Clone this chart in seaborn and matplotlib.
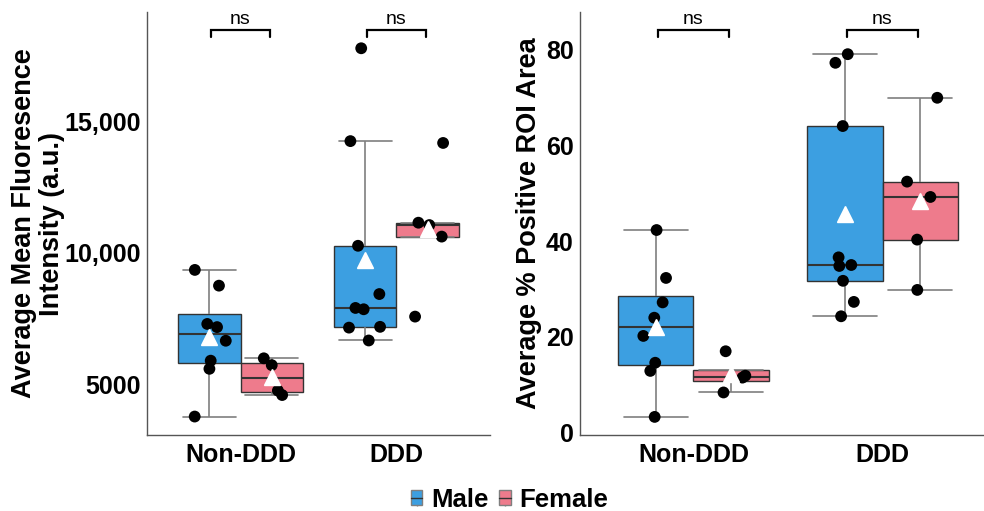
import numpy as np
import pandas as pd
import matplotlib
matplotlib.use("Agg")
import matplotlib.pyplot as plt
import matplotlib.transforms as mtransforms
from matplotlib.patches import Patch
from matplotlib.lines import Line2D
from matplotlib.legend_handler import HandlerTuple
import seaborn as sns

# data
groups = ["Non-DDD", "DDD"]
sexes = ["Male", "Female"]

nonddd_male_mfi = [9350, 8750, 7290, 7170, 6650, 5890, 5580, 3760]
nonddd_female_mfi = [5980, 5720, 4750, 4580]
ddd_male_mfi = [17800, 14260, 10270, 8430, 7900, 7850, 7180, 7150, 6660]
ddd_female_mfi = [14190, 11150, 11060, 10620, 7570]

nonddd_male_roi = [42.3, 32.3, 27.2, 24.0, 20.2, 14.6, 12.9, 3.3]
nonddd_female_roi = [17.0, 11.9, 11.5, 8.4]
ddd_male_roi = [79.0, 77.2, 64.0, 36.6, 35.0, 34.8, 31.7, 27.3, 24.3]
ddd_female_roi = [69.9, 52.4, 49.2, 40.3, 29.8]

mfi_ticks = [5000, 10000, 15000]
mfi_tick_labels = ["5000", "10,000", "15,000"]
roi_ticks = [0, 20, 40, 60, 80]


def make_df(nm, nf, dm, df_):
    rows = []
    for grp, sex, vals in [("Non-DDD", "Male", nm), ("Non-DDD", "Female", nf),
                           ("DDD", "Male", dm), ("DDD", "Female", df_)]:
        for v in vals:
            rows.append({"group": grp, "sex": sex, "value": v})
    return pd.DataFrame(rows)


mfi_df = make_df(nonddd_male_mfi, nonddd_female_mfi, ddd_male_mfi, ddd_female_mfi)
roi_df = make_df(nonddd_male_roi, nonddd_female_roi, ddd_male_roi, ddd_female_roi)

sns.set_style("white")
plt.rcParams["font.family"] = ["Liberation Sans", "DejaVu Sans"]
plt.rcParams["text.color"] = "black"
plt.rcParams["axes.labelcolor"] = "black"
plt.rcParams["xtick.color"] = "black"
plt.rcParams["ytick.color"] = "black"

palette = {"Male": "#3C9FE1", "Female": "#EE7B8C"}
np.random.seed(7)

fig = plt.figure(figsize=(9.84, 5.11), dpi=100)
ax1 = fig.add_axes([0.1494, 0.1487, 0.3486, 0.8278])
ax2 = fig.add_axes([0.5894, 0.1487, 0.4228, 0.8278])


def draw_panel(ax, data):
    sns.boxplot(
        data=data, x="group", y="value", hue="sex",
        order=groups, hue_order=sexes, palette=palette, saturation=1,
        showfliers=False, showmeans=True, linecolor="#333333", linewidth=1,
        whiskerprops=dict(color="#7f7f7f", linewidth=1.2),
        capprops=dict(color="#7f7f7f", linewidth=1.2),
        medianprops=dict(color="#333333", linewidth=1.5),
        meanprops=dict(marker="^", markerfacecolor="white", markeredgecolor="white",
                       markersize=11, zorder=5),
        capwidths=0.3375,
        legend=False, ax=ax,
    )
    sns.stripplot(
        data=data, x="group", y="value", hue="sex",
        order=groups, hue_order=sexes, palette={"Male": "black", "Female": "black"},
        dodge=True, jitter=0.22, size=8.5, linewidth=0, legend=False, ax=ax, zorder=4,
    )
    ax.set_xlim(-0.6, 1.6)
    ax.set_xlabel("")
    for s in ["top", "right"]:
        ax.spines[s].set_visible(False)
    for s in ["left", "bottom"]:
        ax.spines[s].set_color("#555555")
        ax.spines[s].set_linewidth(1)
    ax.tick_params(axis="both", length=3, width=0.8, color="#7f7f7f", pad=1.5,
                   labelsize=18, labelcolor="black")
    ax.tick_params(axis="x", pad=3)
    for lab in ax.get_xticklabels() + ax.get_yticklabels():
        lab.set_fontweight("bold")

    # significance brackets
    trans = mtransforms.blended_transform_factory(ax.transData, ax.transAxes)
    for i in range(len(groups)):
        x0, x1 = i - 0.1875, i + 0.1875
        ax.plot([x0, x0, x1, x1], [0.941, 0.957, 0.957, 0.941], color="black",
                lw=1.6, transform=trans, clip_on=False, solid_joinstyle="miter")
        ax.text(i, 0.962, "ns", ha="center", va="bottom", fontsize=14,
                transform=trans)


draw_panel(ax1, mfi_df)
ax1.set_ylim(3056, 19182)
ax1.set_yticks(mfi_ticks)
ax1.set_yticklabels(mfi_tick_labels, fontweight="bold")
ax1.set_ylabel("Average Mean Fluoresence\nIntensity (a.u.)", fontsize=19.5,
               fontweight="bold", linespacing=1.1)
ax1.yaxis.set_label_coords(-0.240, 0.5)

draw_panel(ax2, roi_df)
ax2.set_ylim(-0.48, 87.8)
ax2.set_yticks(roi_ticks)
ax2.set_yticklabels([str(t) for t in roi_ticks], fontweight="bold")
ax2.set_ylabel("Average % Positive ROI Area", fontsize=19.5, fontweight="bold")
ax2.yaxis.set_label_coords(-0.091, 0.5)

# legend keys drawn like small boxplots
handles = [(Line2D([], [], marker="|", linestyle="none", markersize=12,
                   markeredgewidth=1, color="#7f7f7f"),
            Patch(facecolor=palette[s], edgecolor="#7f7f7f"),
            Line2D([], [], color="#333333", lw=1)) for s in sexes]
fig.legend(handles=handles, labels=sexes, loc="center", bbox_to_anchor=(0.518, 0.022),
           ncol=2, frameon=False, handlelength=0.45, handleheight=0.55,
           handletextpad=0.35, columnspacing=0.4,
           handler_map={tuple: HandlerTuple(ndivide=1, pad=0)},
           prop=dict(weight="bold", size=18.5))

fig.savefig("out.png", dpi=100)
